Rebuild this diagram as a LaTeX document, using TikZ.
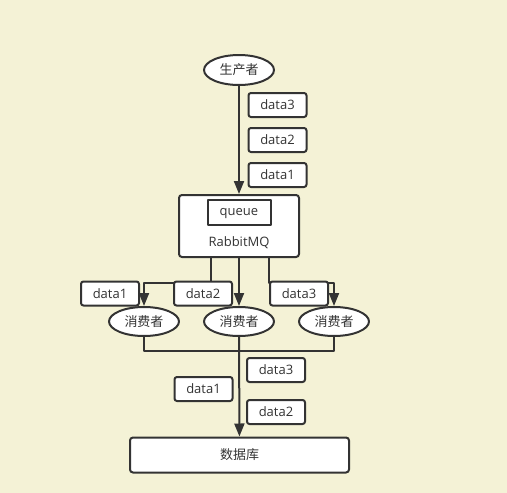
\documentclass[tikz,border=0pt]{standalone}
\usepackage{fontspec}
\setmainfont{Open Sans}
\newfontfamily\cjk{Noto Sans CJK SC}
\usepackage{tikz}
\usetikzlibrary{arrows.meta,shapes.geometric}
\definecolor{bgyy}{rgb}{0.957,0.949,0.839}
\definecolor{lnzz}{rgb}{0.2,0.2,0.2}

\begin{document}
\begin{tikzpicture}[line cap=round,line join=round,>={Triangle[length=13pt,width=10pt]},
			x=1pt,y=-1pt,every node/.style={text=lnzz,font=\fontsize{13}{15}\selectfont},
			line width=2pt,
			oval/.style={ellipse,draw=lnzz,fill=white,line width=2pt,minimum width=70pt,minimum height=30pt,inner sep=0pt},
			msg/.style={rectangle,rounded corners=2.5pt,draw=lnzz,fill=white,line width=2pt,minimum width=58pt,minimum height=24pt,inner sep=0pt},
			bigbox/.style={rectangle,rounded corners=3pt,draw=lnzz,fill=white,line width=2pt,inner sep=0pt}]
			\fill[bgyy] (0,0) rectangle (507,493);
			\useasboundingbox (0,0) rectangle (507,493);
			\node[oval] (prod) at (239,70) {\cjk 生产者};
			\node[msg] (pa3) at (277.5,105) {data3};
			\node[msg] (pa2) at (277.5,140) {data2};
			\node[msg] (pa1) at (277.5,175) {data1};
			\node[bigbox,minimum width=120pt,minimum height=62pt] (mq) at (239,226) {};
			\node[rectangle,draw=lnzz,line width=2pt,minimum width=63pt,minimum height=25pt,inner sep=0pt,text depth=0pt] (queue) at (239,212) {queue};
			\node (mqlabel) at (239,242.5) {RabbitMQ};
			\node[oval,minimum height=29pt] (c1) at (144,321.5) {\cjk 消费者};
			\node[oval,minimum height=29pt] (c2) at (239,321.5) {\cjk 消费者};
			\node[oval,minimum height=29pt] (c3) at (334,321.5) {\cjk 消费者};
			\node[bigbox,minimum width=219pt,minimum height=35pt] (db) at (239.5,455) {\cjk 数据库};
			\draw[color=lnzz,->] (prod) -- (mq);
			\draw[color=lnzz,->] ([xshift=-28pt]mq.south) -- ++(0,25) -| (c1.north);
			\draw[color=lnzz,->] (mq) -- (c2);
			\draw[color=lnzz,->] ([xshift=30pt]mq.south) -- ++(0,25) -| (c3.north);
			\node[msg] (ca1) at (110,293.5) {data1};
			\node[msg] (ca2) at (203,293.5) {data2};
			\node[msg] (ca3) at (299,293.5) {data3};
			\draw[color=lnzz] (c1.south) -- ++(0,14) -| (c3.south);
			\draw[color=lnzz,->] (c2) -- (db);
			\node[msg] (da3) at (276,370) {data3};
			\node[msg] (da1) at (203.5,389) {data1};
			\node[msg] (da2) at (276,412) {data2};
\end{tikzpicture}
\end{document}
